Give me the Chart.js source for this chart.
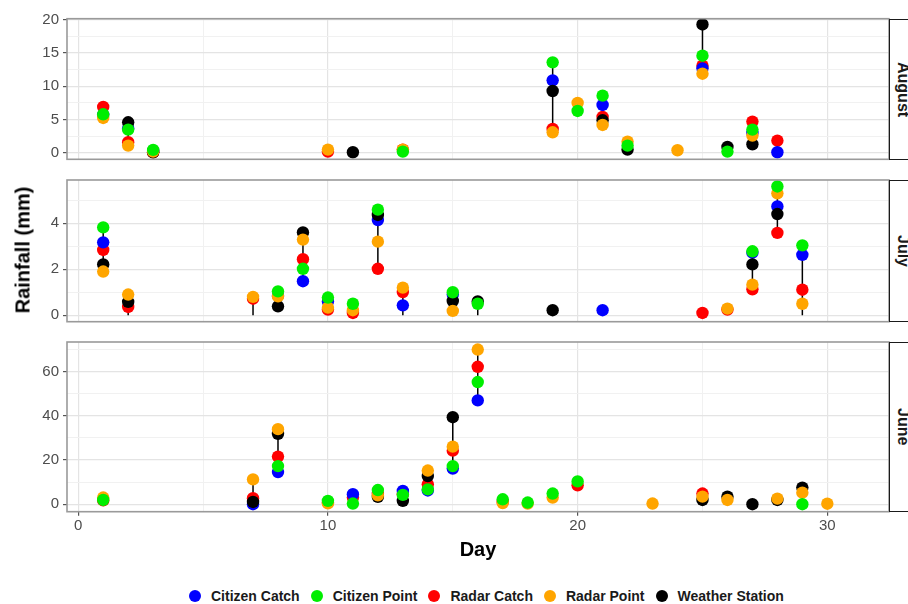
<!DOCTYPE html>
<html>
<head>
<meta charset="utf-8">
<script src="https://cdn.jsdelivr.net/npm/chart.js@4.4.1/dist/chart.umd.min.js"></script>
<style>
  body { margin: 0; width: 908px; height: 604px; overflow: hidden; background: #fff; font-family: "Liberation Sans", Arial, sans-serif; position: relative; }
  canvas { position: absolute; left: 0; }
  .strip { position: absolute; left: 889px; width: 28px; box-sizing: border-box; border: 1.6px solid #1a1a1a; background: #fff;
           display: flex; align-items: center; justify-content: center; }
  .strip span { writing-mode: vertical-rl; font-weight: bold; font-size: 16px; color: #1a1a1a; }
  #ytitle { position: absolute; left: 23px; top: 250px; transform: translate(-50%, -50%) rotate(-90deg); font-weight: bold; font-size: 20px; white-space: nowrap; }
  #xtitle { position: absolute; left: 478px; top: 549px; transform: translate(-50%, -50%); font-weight: bold; font-size: 20px; }
  #legend { position: absolute; left: 189px; top: 588px; display: flex; align-items: center; font-weight: bold; font-size: 14px; color: #1a1a1a; }
  #legend .dot { width: 12px; height: 12px; border-radius: 50%; margin-right: 10px; }
  #legend .lab { margin-right: 11px; }
</style>
</head>
<body>
<canvas id="aug" width="908" height="176" style="top:0px"></canvas>
<canvas id="jul" width="908" height="176" style="top:166px"></canvas>
<canvas id="jun" width="908" height="212" style="top:328px"></canvas>
<div class="strip" style="top:18.7px;height:141px"><span>August</span></div>
<div class="strip" style="top:180px;height:142px"><span>July</span></div>
<div class="strip" style="top:342px;height:170px"><span>June</span></div>
<div id="ytitle">Rainfall (mm)</div>
<div id="xtitle">Day</div>
<div id="legend"></div>
<script>
var serie = ['Citizen Catch', 'Citizen Point', 'Radar Catch', 'Radar Point', 'Weather Station'];
var colori = ['#0000ff', '#00ee00', '#ff0000', '#ffa500', '#000000'];
// higher = drawn first (underneath)
var ordine = [4, 1, 5, 2, 3];

var xMajor = [0, 10, 20, 30];
var xMinor = [5, 15, 25];

// August
var augDays = [1, 2, 3, 10, 11, 13, 19, 20, 21, 22, 24, 25, 26, 27, 28];
var augCitizenCatch = [5.7, 3.7, 0.3, null, null, null, 10.9, null, 7.2, null, null, 12.7, null, 3.0, 0.1];
var augCitizenPoint = [5.8, 3.5, 0.45, null, null, 0.2, 13.6, 6.3, 8.6, 1.1, null, 14.6, 0.2, 3.5, null];
var augRadarCatch = [6.9, 1.6, 0.1, 0.2, null, 0.5, 3.6, null, 5.4, null, null, 13.1, null, 4.7, 1.85];
var augRadarPoint = [5.25, 1.1, 0.2, 0.5, null, 0.5, 3.1, 7.5, 4.2, 1.7, 0.4, 11.9, null, 2.6, null];
var augWeatherStation = [null, 4.6, 0.1, null, 0.1, null, 9.3, null, 4.9, 0.5, null, 19.3, 0.9, 1.3, null];
var augMajor = [0, 5, 10, 15, 20];
var augMinor = [2.5, 7.5, 12.5, 17.5];
var augStemToZero = [];

// July
var julDays = [1, 2, 7, 8, 9, 10, 11, 12, 13, 15, 16, 19, 21, 25, 26, 27, 28, 29];
var julCitizenCatch = [3.17, null, null, 0.85, 1.48, 0.6, null, 4.14, 0.43, 0.9, null, null, 0.22, null, null, 2.72, 4.73, 2.63];
var julCitizenPoint = [3.82, null, null, 1.04, 2.02, 0.77, 0.5, 4.59, null, 1.0, 0.5, null, null, null, null, 2.78, 5.6, 3.04];
var julRadarCatch = [2.84, 0.36, 0.72, null, 2.44, 0.25, 0.1, 2.02, 1.01, null, null, null, null, 0.1, 0.25, 1.13, 3.58, 1.11];
var julRadarPoint = [1.9, 0.9, 0.8, 0.82, 3.29, 0.33, 0.22, 3.2, 1.2, 0.19, null, null, null, null, 0.29, 1.33, 5.3, 0.5];
var julWeatherStation = [2.21, 0.58, null, 0.39, 3.6, null, null, 4.36, null, 0.62, 0.6, 0.22, null, null, null, 2.21, 4.4, null];
var julMajor = [0, 2, 4];
var julMinor = [1, 3, 5];
var julStemToZero = [2, 7, 13, 16, 29];

// June
var junDays = [1, 7, 8, 10, 11, 12, 13, 14, 15, 16, 17, 18, 19, 20, 23, 25, 26, 27, 28, 29, 30];
var junCitizenCatch = [null, 0.0, 14.5, null, 4.5, null, 6.0, 6.2, 16.1, 46.9, null, null, null, null, null, null, null, null, null, null, null];
var junCitizenPoint = [1.9, null, 17.2, 1.5, 0.3, 6.4, 4.2, 6.7, 17.2, 55.2, 2.2, 0.75, 4.8, 10.3, null, null, null, null, null, 0.0, null];
var junRadarCatch = [1.7, 2.7, 21.5, 0.8, 3.0, 4.7, 4.5, 9.0, 24.2, 62.1, 1.0, null, null, 8.5, null, 4.8, null, null, null, null, null];
var junRadarPoint = [3.0, 11.2, 33.9, 0.4, null, 4.0, null, 15.2, 26.0, 69.9, 0.5, 0.3, 3.0, null, 0.3, 3.4, 1.9, null, 2.5, 5.2, 0.2];
var junWeatherStation = [null, 1.0, 31.8, null, null, 3.3, 1.5, 12.7, 39.3, null, null, null, null, null, null, 1.9, 3.4, 0.0, 1.9, 7.5, null];
var junMajor = [0, 20, 40, 60];
var junMinor = [10, 30, 50, 70];
var junStemToZero = [];


var bordoPannello = {
    id: 'bordoPannello',
    afterDraw: function (chart) {
        var a = chart.chartArea;
        var ctx = chart.ctx;
        ctx.save();
        ctx.strokeStyle = '#9a9a9a';
        ctx.lineWidth = 1.6;
        ctx.strokeRect(a.left, a.top, a.right - a.left, a.bottom - a.top);
        ctx.restore();
    }
};

function punti(days, vals) {
    var out = [];
    for (var i = 0; i < days.length; i++) {
        if (vals[i] !== null) out.push({x: days[i], y: vals[i]});
    }
    return out;
}

function steli(days, series, zeroDays) {
    var out = [];
    for (var i = 0; i < days.length; i++) {
        var lo = Infinity, hi = -Infinity;
        for (var s = 0; s < series.length; s++) {
            var v = series[s][i];
            if (v !== null) { lo = Math.min(lo, v); hi = Math.max(hi, v); }
        }
        if (zeroDays.indexOf(days[i]) >= 0) lo = 0;
        if (hi > lo) {
            out.push({x: days[i], y: lo}, {x: days[i], y: hi}, {x: days[i], y: null});
        }
    }
    return out;
}

function tickList(major, minor) {
    return major.concat(minor).sort(function (a, b) { return a - b; });
}

function stampaPannello(id, days, series, yMin, yMax, major, minor, zeroDays, padTop, padBottom, showX) {
    var datasets = [{
        label: 'stem',
        data: steli(days, series, zeroDays),
        showLine: true,
        borderColor: '#000',
        borderWidth: 1.5,
        pointRadius: 0,
        spanGaps: false,
        order: 10
    }];
    for (var s = 0; s < series.length; s++) {
        datasets.push({
            label: serie[s],
            data: punti(days, series[s]),
            backgroundColor: colori[s],
            borderWidth: 0,
            pointRadius: 6.2,
            order: ordine[s]
        });
    }

    new Chart(document.getElementById(id), {
        type: 'scatter',
        data: {datasets: datasets},
        plugins: [bordoPannello],
        options: {
            responsive: false,
            animation: false,
            events: [],
            layout: {padding: {top: padTop, bottom: showX ? 0 : padBottom, left: 0, right: 908 - 889}},
            plugins: {legend: {display: false}, tooltip: {enabled: false}},
            scales: {
                x: {
                    type: 'linear',
                    min: -0.45,
                    max: 32.47,
                    afterBuildTicks: function (scale) {
                        scale.ticks = tickList(xMajor, xMinor).map(function (v) { return {value: v}; });
                    },
                    afterFit: function (scale) { scale.height = showX ? padBottom : 0; },
                    border: {display: false},
                    grid: {
                        color: function (c) { return xMajor.indexOf(c.tick.value) >= 0 ? '#e4e4e4' : '#f1f1f1'; },
                        lineWidth: function (c) { return xMajor.indexOf(c.tick.value) >= 0 ? 1.2 : 1; },
                        drawTicks: showX,
                        tickLength: 4,
                        tickColor: function (c) { return xMajor.indexOf(c.tick.value) >= 0 ? '#555' : 'rgba(0,0,0,0)'; }
                    },
                    ticks: {
                        display: showX,
                        autoSkip: false,
                        maxRotation: 0,
                        padding: 1,
                        color: '#4d4d4d',
                        font: {family: 'Liberation Sans', size: 15},
                        callback: function (v) { return xMajor.indexOf(v) >= 0 ? String(v) : ''; }
                    }
                },
                y: {
                    type: 'linear',
                    min: yMin,
                    max: yMax,
                    afterBuildTicks: function (scale) {
                        scale.ticks = tickList(major, minor).map(function (v) { return {value: v}; });
                    },
                    afterFit: function (scale) { scale.width = 67; },
                    border: {display: false},
                    grid: {
                        color: function (c) { return major.indexOf(c.tick.value) >= 0 ? '#e4e4e4' : '#f1f1f1'; },
                        lineWidth: function (c) { return major.indexOf(c.tick.value) >= 0 ? 1.2 : 1; },
                        tickLength: 4,
                        tickColor: function (c) { return major.indexOf(c.tick.value) >= 0 ? '#555' : 'rgba(0,0,0,0)'; }
                    },
                    ticks: {
                        autoSkip: false,
                        padding: 4,
                        color: '#4d4d4d',
                        font: {family: 'Liberation Sans', size: 15},
                        callback: function (v) { return major.indexOf(v) >= 0 ? String(v) : ''; }
                    }
                }
            }
        }
    });
}

stampaPannello('aug', augDays, [augCitizenCatch, augCitizenPoint, augRadarCatch, augRadarPoint, augWeatherStation],
    -0.96, 20.16, augMajor, augMinor, augStemToZero, 18.7, 176 - 159.3, false);
stampaPannello('jul', julDays, [julCitizenCatch, julCitizenPoint, julRadarCatch, julRadarPoint, julWeatherStation],
    -0.28, 5.88, julMajor, julMinor, julStemToZero, 180 - 166, 342 - 321.7, false);
stampaPannello('jun', junDays, [junCitizenCatch, junCitizenPoint, junRadarCatch, junRadarPoint, junWeatherStation],
    -3.4, 73.3, junMajor, junMinor, junStemToZero, 342 - 328, 212 - 511.7 + 328, true);

var legend = document.getElementById('legend');
for (var i = 0; i < serie.length; i++) {
    var dot = document.createElement('div');
    dot.className = 'dot';
    dot.style.background = colori[i];
    var lab = document.createElement('div');
    lab.className = 'lab';
    lab.textContent = serie[i];
    legend.appendChild(dot);
    legend.appendChild(lab);
}
</script>
</body>
</html>
